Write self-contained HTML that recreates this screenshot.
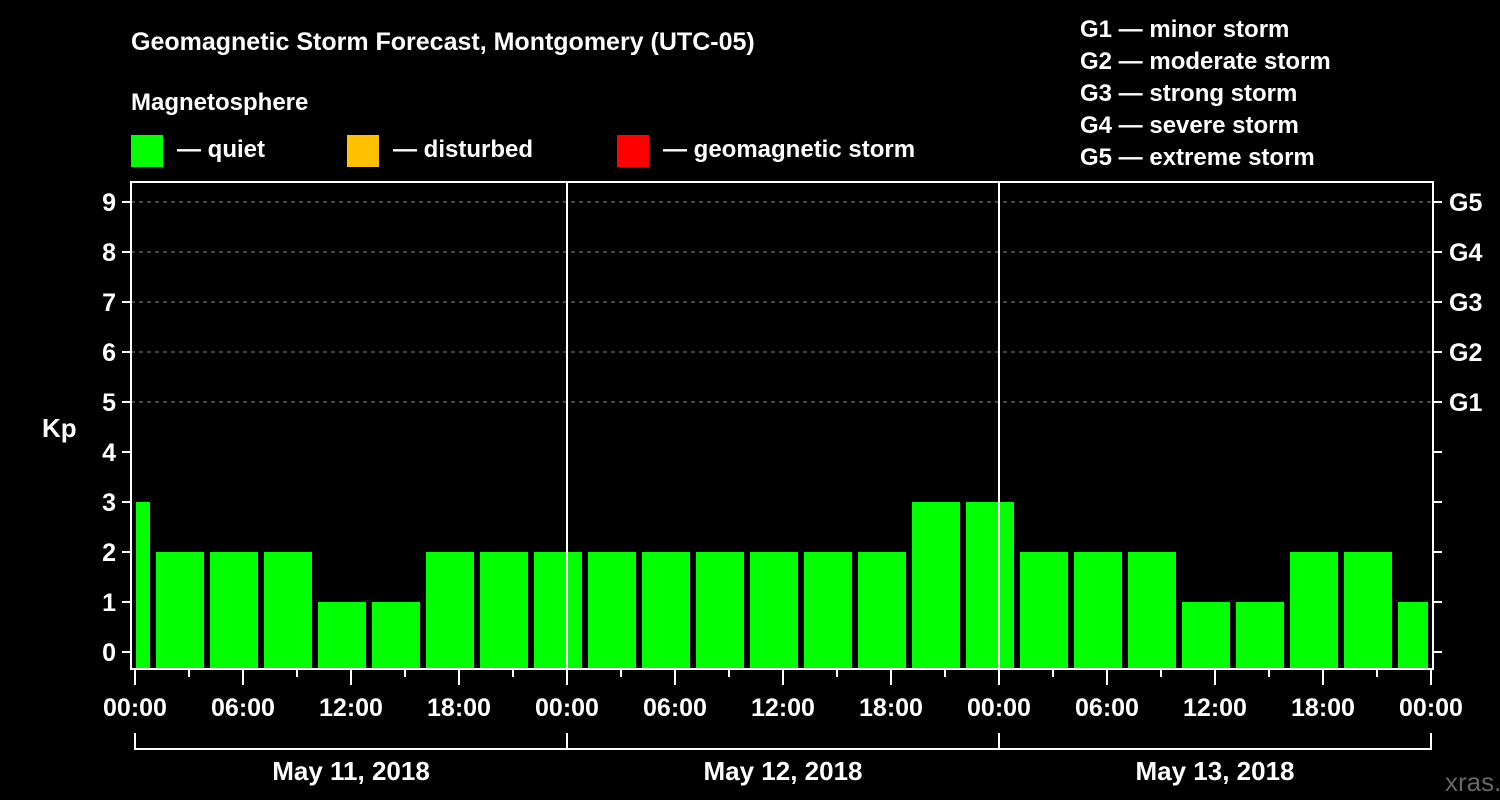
<!DOCTYPE html>
<html><head><meta charset="utf-8"><style>
html,body{margin:0;padding:0;background:#000;}
svg{display:block;font-family:"Liberation Sans",Arial,sans-serif;font-weight:bold;}
</style></head><body>
<svg id="chart" width="1500" height="800" viewBox="0 0 1500 800" xmlns="http://www.w3.org/2000/svg">
<rect width="1500" height="800" fill="#000"/>
<text x="131" y="50" fill="#fff" font-size="25">Geomagnetic Storm Forecast, Montgomery (UTC-05)</text>
<text x="131" y="110" fill="#fff" font-size="24">Magnetosphere</text>
<g><rect x="131" y="135" width="32" height="32" fill="#00ff00"/><text x="177" y="157" fill="#fff" font-size="24">— quiet</text></g>
<g><rect x="347" y="135" width="32" height="32" fill="#ffc000"/><text x="393" y="157" fill="#fff" font-size="24">— disturbed</text></g>
<g><rect x="617" y="135" width="32" height="32" fill="#ff0000"/><text x="663" y="157" fill="#fff" font-size="24">— geomagnetic storm</text></g>
<g fill="#fff" font-size="24">
<text x="1080" y="37">G1 — minor storm</text>
<text x="1080" y="69">G2 — moderate storm</text>
<text x="1080" y="101">G3 — strong storm</text>
<text x="1080" y="133">G4 — severe storm</text>
<text x="1080" y="165">G5 — extreme storm</text>
</g>
<text x="42" y="437" fill="#fff" font-size="26">Kp</text>
<text x="1445" y="791" fill="#666" font-size="26" font-weight="normal">xras.ru</text>
<g id="plot"></g>
</svg>
<script>
const kpValues = [3,2,2,2,1,1,2,2,2,2,2,2,2,2,2,3,3,2,2,2,1,1,2,2,1];
const dayLabels = ["May 11, 2018","May 12, 2018","May 13, 2018"];
const hourTickLabels = ["00:00","06:00","12:00","18:00"];
const kpTicks = [0,1,2,3,4,5,6,7,8,9];
const gLevels = ["G1","G2","G3","G4","G5"];
const firstBlockStartHour = -2;
const blockHours = 3;
const totalHours = 72;

const NS = "http://www.w3.org/2000/svg";
const X0 = 135, PXH = 18, Y0 = 652, PXK = 50;
const LEFT = 131, RIGHT = 1433, TOP = 182, BOTTOM = 668;
const xs = h => X0 + h * PXH;
const ys = k => Y0 - k * PXK;
const plot = document.getElementById("plot");
function mk(tag, attrs, parent) {
  const e = document.createElementNS(NS, tag);
  for (const k in attrs) e.setAttribute(k, attrs[k]);
  (parent || plot).appendChild(e);
  return e;
}
// grid lines for storm levels
kpTicks.forEach(k => {
  if (k >= 5) {
    const l = mk("line", {x1: LEFT, x2: RIGHT, y1: ys(k), y2: ys(k), stroke: "#888", "stroke-width": 1, "stroke-dasharray": "4,4"});
    
    
  }
});
// bars
kpValues.forEach((v, i) => {
  let h0 = firstBlockStartHour + i * blockHours, h1 = h0 + blockHours;
  let a = Math.max(h0, 0), b = Math.min(h1, totalHours);
  let x1 = xs(a) + 3, x2 = xs(b) - 3;
  if (a === 0) x1 = xs(0) + 1;
  const color = v >= 5 ? "#ff0000" : (v >= 4 ? "#ffc000" : "#00ff00");
  const r = mk("rect", {x: x1, y: ys(v), width: x2 - x1, height: BOTTOM - ys(v), fill: color});
  
  
});
// day separators
for (let d = 1; d < dayLabels.length; d++) {
  const l = mk("line", {x1: xs(d * 24), x2: xs(d * 24), y1: TOP, y2: BOTTOM, stroke: "#fff", "stroke-width": 2});
  
  
}
// frame
const fr = mk("path", {d: `M${LEFT} ${TOP}H${RIGHT}V${BOTTOM+1}H${LEFT}Z`, fill: "none", stroke: "#fff", "stroke-width": 2});


// y ticks and labels
kpTicks.forEach(k => {
  const t = mk("line", {x1: LEFT - 9, x2: LEFT, y1: ys(k), y2: ys(k), stroke: "#fff", "stroke-width": 2});
  
  
  const t2 = mk("line", {x1: RIGHT, x2: RIGHT + 9, y1: ys(k), y2: ys(k), stroke: "#fff", "stroke-width": 2});
  
  
  const tx = mk("text", {x: 116, y: ys(k) + 9, fill: "#fff", "font-size": 25, "text-anchor": "end"});
  tx.textContent = k;
  
  
});
gLevels.forEach((g, i) => {
  const tx = mk("text", {x: 1449, y: ys(5 + i) + 9, fill: "#fff", "font-size": 25});
  tx.textContent = g;
  
  
});
// x ticks
for (let h = 0; h <= totalHours; h += 3) {
  const major = h % 6 === 0;
  const t = mk("line", {x1: xs(h), x2: xs(h), y1: BOTTOM + 1, y2: major ? 685 : 677, stroke: "#fff", "stroke-width": 2});
  
  
  if (major) {
    const tx = mk("text", {x: xs(h), y: 716, fill: "#fff", "font-size": 25, "text-anchor": "middle"});
    tx.textContent = hourTickLabels[(h / 6) % 4];
    
    
  }
}
// day brackets
dayLabels.forEach((lab, d) => {
  const a = xs(d * 24), b = xs((d + 1) * 24);
  const p = mk("path", {d: `M${a} 733V749H${b}` + (d === dayLabels.length - 1 ? "V733" : ""), fill: "none", stroke: "#fff", "stroke-width": 2});
  
  
  const tx = mk("text", {x: (a + b) / 2, y: 780, fill: "#fff", "font-size": 26, "text-anchor": "middle"});
  tx.textContent = lab;
  
  
});
</script>
</body></html>
